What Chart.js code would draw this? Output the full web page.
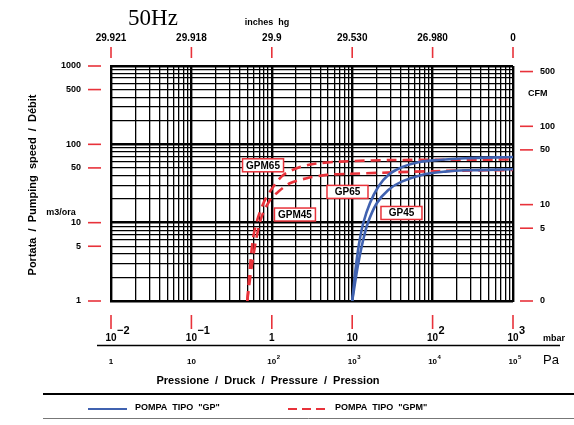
<!DOCTYPE html>
<html>
<head>
<meta charset="utf-8">
<script src="https://cdn.jsdelivr.net/npm/chart.js@4/dist/chart.umd.min.js"></script>
<style>
  html, body { margin: 0; padding: 0; background: #fff; }
  #wrap { width: 574px; height: 425px; position: relative; }
</style>
</head>
<body>
<div id="wrap"><canvas id="graphic__speed"></canvas></div>
<script>
// pressure in mbar, speed in m3/h
const gp65P = [10, 11.1, 12.2, 13.7, 16.6, 21.1, 28.1, 41.3, 66.4, 118, 253, 1000];
const gp65S = [1, 2.74, 5.46, 9.83, 17.7, 28.8, 40.7, 51, 59.1, 63.2, 66.4, 69];
const gp45P = [10, 11.7, 13.4, 15.6, 20.2, 28.1, 41.3, 73.2, 143, 253, 1000];
const gp45S = [1, 2.74, 5.46, 9.83, 17.7, 26.2, 33.4, 40.7, 44.8, 46.6, 48];
const gpm65P = [0.495, 0.536, 0.589, 0.679, 0.822, 1.044, 1.39, 2.04, 3.28, 7.05, 30, 1000];
const gpm65S = [1, 2.74, 6.63, 11.9, 19.5, 28.8, 40.7, 49.5, 56.2, 60.1, 63, 64];
const gpm45P = [0.495, 0.562, 0.649, 0.748, 0.951, 1.205, 1.68, 2.72, 4.82, 8.55, 124, 1000];
const gpm45S = [1, 2.74, 6.63, 11.9, 19.5, 24.9, 31.9, 36.9, 40.7, 41.9, 45.7, 47];

const mbarTicks = [0.01, 0.1, 1, 10, 100, 1000];
const mbarExp = ['-2', '-1', '', '', '2', '3'];
const mbarBase = ['10', '10', '1', '10', '10', '10'];
const paBase = ['1', '10', '10', '10', '10', '10'];
const paExp = ['', '', '2', '3', '4', '5'];
const inchTicks = ['29.921', '29.918', '29.9', '29.530', '26.980', '0'];
const speedTicks = [1000, 500, 100, 50, 10, 5, 1];
const cfmTicks = [500, 100, 50, 10, 5, 0];
const CFM_TO_M3H = 1.699;

const RED = '#e8323a';
const BLUE = '#4062b0';
const FONT = '"Liberation Sans", Arial, sans-serif';

const toPts = (px, py) => px.map((p, i) => ({ x: p, y: py[i] }));

const logTicks = (lo, hi) => {
    const out = [];
    for (let e = lo; e < hi; e++) {
        for (let m = 1; m < 10; m++) out.push({ value: m * Math.pow(10, e) });
    }
    out.push({ value: Math.pow(10, hi) });
    return out;
};

const isDecade = (v) => Math.abs(Math.log10(v) - Math.round(Math.log10(v))) < 1e-9;

// label boxes, centre in data units
const labelText = ['GPM65', 'GP65', 'GPM45', 'GP45'];
const labelP = [0.778, 8.74, 1.94, 41];
const labelS = [54, 24.7, 12.7, 13.3];

const decor = {
    id: 'decor',
    afterDraw(chart) {
        const ctx = chart.ctx;
        const xs = chart.scales.x;
        const ys = chart.scales.y;
        ctx.save();

        // boxed curve labels
        ctx.font = 'bold 10px ' + FONT;
        ctx.textAlign = 'center';
        ctx.textBaseline = 'middle';
        labelText.forEach((t, i) => {
            const cx = xs.getPixelForValue(labelP[i]);
            const cy = ys.getPixelForValue(labelS[i]);
            ctx.fillStyle = '#fff';
            ctx.fillRect(cx - 20.5, cy - 6.5, 41, 13);
            ctx.strokeStyle = RED;
            ctx.lineWidth = 1.5;
            ctx.strokeRect(cx - 20.5, cy - 6.5, 41, 13);
            ctx.fillStyle = '#000';
            ctx.fillText(t, cx, cy + 0.5);
        });

        ctx.strokeStyle = RED;
        ctx.lineWidth = 1.6;

        // top inches hg
        ctx.fillStyle = '#000';
        ctx.font = 'bold 10px ' + FONT;
        ctx.textBaseline = 'alphabetic';
        mbarTicks.forEach((v, i) => {
            const px = xs.getPixelForValue(v);
            ctx.beginPath();
            ctx.moveTo(px, 47); ctx.lineTo(px, 58); ctx.stroke();
            ctx.textAlign = 'center';
            ctx.fillText(inchTicks[i], px, 41);
        });
        ctx.font = 'bold 9px ' + FONT;
        ctx.fillText('inches  hg', 267, 25);
        ctx.font = '23px "Liberation Serif", "DejaVu Serif", serif';
        ctx.fillText('50Hz', 153, 25);

        // bottom mbar
        mbarTicks.forEach((v, i) => {
            const px = xs.getPixelForValue(v);
            ctx.beginPath();
            ctx.moveTo(px, 315); ctx.lineTo(px, 329); ctx.stroke();
            ctx.font = 'bold 10px ' + FONT;
            ctx.textAlign = 'center';
            ctx.fillText(mbarBase[i], px, 341);
            if (mbarExp[i]) {
                ctx.textAlign = 'left';
                ctx.font = 'bold 11px ' + FONT;
                ctx.fillText(mbarExp[i].replace('-', '\u2212'), px + 6, 334);
            }
            ctx.font = 'bold 8px ' + FONT;
            ctx.textAlign = 'center';
            ctx.fillText(paBase[i], px, 364);
            if (paExp[i]) {
                ctx.textAlign = 'left';
                ctx.font = 'bold 6px ' + FONT;
                ctx.fillText(paExp[i], px + 5, 359);
            }
        });
        ctx.textAlign = 'left';
        ctx.font = 'bold 9px ' + FONT;
        ctx.fillText('mbar', 543, 341);
        ctx.font = '13px ' + FONT;
        ctx.fillText('Pa', 543, 364);
        ctx.textAlign = 'center';
        ctx.font = 'bold 11px ' + FONT;
        ctx.fillText('Pressione  /  Druck  /  Pressure  /  Pression', 268, 384);

        ctx.strokeStyle = '#000';
        ctx.lineWidth = 1.5;
        ctx.beginPath();
        ctx.moveTo(97, 345.5); ctx.lineTo(560, 345.5); ctx.stroke();

        // left speed axis
        ctx.strokeStyle = RED;
        ctx.lineWidth = 1.6;
        speedTicks.forEach(v => {
            const py = ys.getPixelForValue(v);
            ctx.beginPath();
            ctx.moveTo(88, py); ctx.lineTo(101, py); ctx.stroke();
            ctx.font = 'bold 9px ' + FONT;
            ctx.textAlign = 'right';
            ctx.textBaseline = 'middle';
            ctx.fillText(String(v), 81, py);
        });
        ctx.textAlign = 'center';
        ctx.fillText('m3/ora', 61, 213);

        // right CFM axis
        cfmTicks.forEach(c => {
            const py = ys.getPixelForValue(c === 0 ? 1 : c * CFM_TO_M3H);
            ctx.beginPath();
            ctx.moveTo(520, py); ctx.lineTo(533, py); ctx.stroke();
            ctx.font = 'bold 9px ' + FONT;
            ctx.textAlign = 'left';
            ctx.fillText(String(c), 540, py);
        });
        ctx.fillText('CFM', 528, 94);

        // vertical title
        ctx.save();
        ctx.translate(33, 185);
        ctx.rotate(-Math.PI / 2);
        ctx.textAlign = 'center';
        ctx.font = 'bold 11px ' + FONT;
        ctx.fillText('Portata  /  Pumping  speed  /  Débit', 0, 0);
        ctx.restore();

        // legend
        ctx.strokeStyle = '#000';
        ctx.lineWidth = 2;
        ctx.beginPath();
        ctx.moveTo(43, 394); ctx.lineTo(574, 394); ctx.stroke();
        ctx.strokeStyle = '#777';
        ctx.lineWidth = 1;
        ctx.beginPath();
        ctx.moveTo(43, 418.5); ctx.lineTo(574, 418.5); ctx.stroke();

        ctx.lineWidth = 2;
        ctx.strokeStyle = BLUE;
        ctx.beginPath();
        ctx.moveTo(88, 409); ctx.lineTo(127, 409); ctx.stroke();
        ctx.strokeStyle = RED;
        ctx.setLineDash([9, 5]);
        ctx.beginPath();
        ctx.moveTo(288, 409); ctx.lineTo(328, 409); ctx.stroke();
        ctx.setLineDash([]);
        ctx.fillStyle = '#000';
        ctx.textAlign = 'left';
        ctx.textBaseline = 'middle';
        ctx.font = 'bold 9px ' + FONT;
        ctx.fillText('POMPA  TIPO  "GP"', 135, 408);
        ctx.fillText('POMPA  TIPO  "GPM"', 335, 408);

        ctx.restore();
    }
};

const ctx = document.querySelector('#graphic__speed').getContext('2d');

const lineSet = (data, color, dashed) => ({
    data: data,
    borderColor: color,
    borderWidth: 2.6,
    borderDash: dashed ? [10, 6] : [],
    pointRadius: 0,
    fill: false,
    tension: 0.3
});

const config = {
    type: 'line',
    data: {
        datasets: [
            lineSet(toPts(gp65P, gp65S), BLUE, false),
            lineSet(toPts(gp45P, gp45S), BLUE, false),
            lineSet(toPts(gpm65P, gpm65S), RED, true),
            lineSet(toPts(gpm45P, gpm45S), RED, true)
        ]
    },
    options: {
        responsive: true,
        maintainAspectRatio: false,
        animation: false,
        layout: { padding: { left: 111, right: 61, top: 66, bottom: 124 } },
        plugins: {
            legend: { display: false },
            tooltip: { enabled: false }
        },
        scales: {
            x: {
                type: 'logarithmic',
                min: 0.01,
                max: 1000,
                afterBuildTicks: (s) => { s.ticks = logTicks(-2, 3); },
                afterFit: (s) => { s.height = 0; },
                ticks: { display: false },
                grid: {
                    drawTicks: false,
                    color: '#000',
                    lineWidth: (c) => (c.tick && isDecade(c.tick.value) ? 2.4 : 1.3)
                },
                border: { display: true, color: '#000', width: 2 }
            },
            y: {
                type: 'logarithmic',
                min: 1,
                max: 1000,
                afterBuildTicks: (s) => { s.ticks = logTicks(0, 3); },
                afterFit: (s) => { s.width = 0; },
                ticks: { display: false },
                grid: {
                    drawTicks: false,
                    color: '#000',
                    lineWidth: (c) => (c.tick && isDecade(c.tick.value) ? 2.4 : 1.3)
                },
                border: { display: true, color: '#000', width: 2 }
            }
        }
    },
    plugins: [decor]
};

const myChart = new Chart(ctx, config);
</script>
</body>
</html>
